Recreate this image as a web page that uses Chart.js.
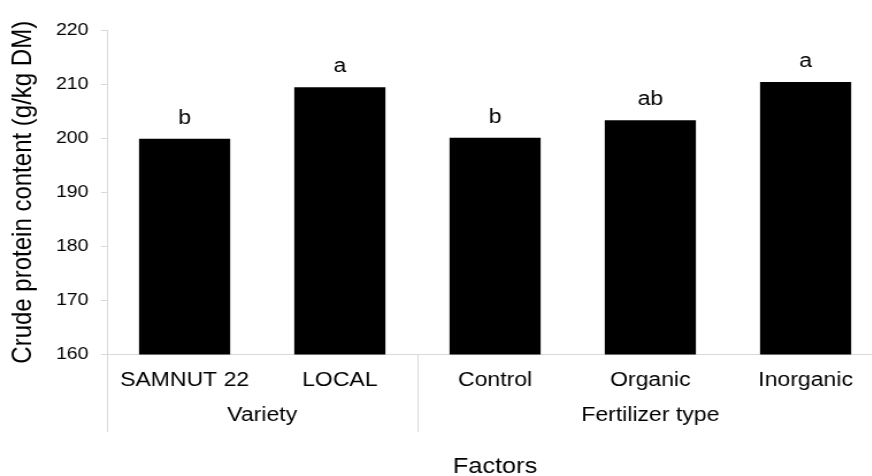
<!DOCTYPE html>
<html>
<head>
<meta charset="utf-8">
<script src="https://cdn.jsdelivr.net/npm/chart.js@4.4.1/dist/chart.umd.min.js"></script>
<style>
    html, body { margin: 0; padding: 0; background: #fff; overflow: hidden; }
    /* the source figure is stretched horizontally, so the canvas is too */
    #wrap { width: 768px; height: 476px; transform: scaleX(1.15); transform-origin: 0 0; }
</style>
</head>
<body>
<div id="wrap"><canvas id="protein-chart" width="768" height="476"></canvas></div>
<script>
var categories = ['SAMNUT 22', 'LOCAL', 'Control', 'Organic', 'Inorganic'];
var proteinValues = [199.9, 209.4, 200.1, 203.3, 210.4];
var letters = ['b', 'a', 'b', 'ab', 'a'];
var groupNames = ['Variety', 'Fertilizer type'];
var groupSizes = [2, 3];
var yTicks = [160, 170, 180, 190, 200, 210, 220];

var FONT = "'Liberation Sans', Arial, sans-serif";
var AXIS_GREY = '#d9d9d9';

// Letters of significance above each bar
var letterPlugin = {
    id: 'letters',
    afterDatasetsDraw: function(chart) {
        var ctx = chart.ctx;
        var meta = chart.getDatasetMeta(0);
        ctx.save();
        ctx.font = '20px ' + FONT;
        ctx.fillStyle = '#000';
        ctx.textAlign = 'center';
        ctx.textBaseline = 'alphabetic';
        meta.data.forEach(function(bar, i) {
            ctx.fillText(letters[i], bar.x, bar.y - 15);
        });
        ctx.restore();
    }
};

// Second level of the category axis: group labels and dividers
var groupPlugin = {
    id: 'groupAxis',
    afterDraw: function(chart) {
        var ctx = chart.ctx;
        var xs = chart.scales.x;
        var area = chart.chartArea;
        var lineBottom = 432;
        var labelY = 415;
        var n = categories.length;

        ctx.save();
        ctx.strokeStyle = AXIS_GREY;
        ctx.lineWidth = 1;
        var edges = [area.left];
        var start = 0;
        groupSizes.forEach(function(size) {
            var end = start + size;
            var edge = end < n ? (xs.getPixelForTick(end - 1) + xs.getPixelForTick(end)) / 2 : area.right;
            edges.push(edge);
            start = end;
        });
        edges.forEach(function(x) {
            var px = Math.round(x) + 0.5;
            ctx.beginPath();
            ctx.moveTo(px, area.bottom);
            ctx.lineTo(px, lineBottom);
            ctx.stroke();
        });

        ctx.font = '20px ' + FONT;
        ctx.fillStyle = '#000';
        ctx.textAlign = 'center';
        ctx.textBaseline = 'middle';
        start = 0;
        groupSizes.forEach(function(size, g) {
            var cx = (xs.getPixelForTick(start) + xs.getPixelForTick(start + size - 1)) / 2;
            ctx.fillText(groupNames[g], cx, labelY);
            start += size;
        });
        ctx.restore();
    }
};

var proteinChart = new Chart(document.getElementById('protein-chart'), {
    type: 'bar',
    data: {
        labels: categories,
        datasets: [{
            label: 'Crude protein content',
            data: proteinValues,
            backgroundColor: '#000',
            borderWidth: 0,
            categoryPercentage: 1,
            barPercentage: 0.587
        }]
    },
    options: {
        responsive: false,
        animation: false,
        devicePixelRatio: 1,
        layout: { padding: { top: 30, right: 0, bottom: 0, left: 0 } },
        plugins: {
            legend: { display: false },
            tooltip: { enabled: false }
        },
        scales: {
            x: {
                offset: true,
                grid: { display: false, drawTicks: false },
                border: { color: AXIS_GREY, width: 1 },
                ticks: {
                    autoSkip: false,
                    maxRotation: 0,
                    padding: 14,
                    color: '#000',
                    font: { family: FONT, size: 20 }
                },
                title: {
                    display: true,
                    text: 'Factors',
                    color: '#000',
                    font: { family: FONT, size: 22, lineHeight: 0.8 },
                    padding: { top: 0, bottom: 0 }
                },
                afterFit: function(s) { s.height = 121.5; }
            },
            y: {
                min: yTicks[0],
                max: yTicks[yTicks.length - 1],
                afterBuildTicks: function(s) {
                    s.ticks = yTicks.map(function(v) { return { value: v }; });
                },
                grid: { drawOnChartArea: false, drawTicks: true, tickLength: 5, color: AXIS_GREY },
                border: { color: AXIS_GREY, width: 1 },
                ticks: {
                    padding: 11,
                    color: '#000',
                    font: { family: FONT, size: 17 }
                },
                title: {
                    display: true,
                    text: 'Crude protein content (g/kg DM)',
                    color: '#000',
                    font: { family: FONT, size: 24, lineHeight: 1 },
                    padding: { top: 8, bottom: 0 }
                },
                afterFit: function(s) { s.width = 93; }
            }
        }
    },
    plugins: [letterPlugin, groupPlugin]
});
</script>
</body>
</html>
